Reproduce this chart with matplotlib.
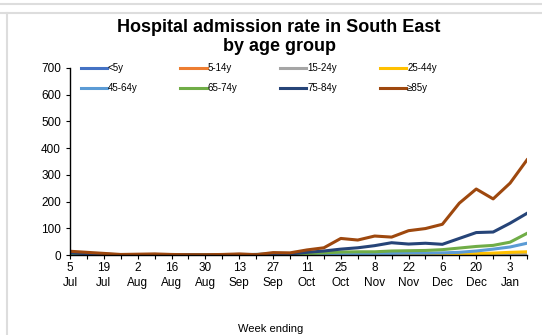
import matplotlib
matplotlib.use("Agg")
import matplotlib.pyplot as plt
from matplotlib.lines import Line2D

plt.rcParams["font.family"] = ["Liberation Sans", "DejaVu Sans"]

# week ending dates, 5 Jul to 10 Jan
weeks = ["5\nJul", "12\nJul", "19\nJul", "26\nJul", "2\nAug", "9\nAug", "16\nAug",
         "23\nAug", "30\nAug", "6\nSep", "13\nSep", "20\nSep", "27\nSep", "4\nOct",
         "11\nOct", "18\nOct", "25\nOct", "1\nNov", "8\nNov", "15\nNov", "22\nNov",
         "29\nNov", "6\nDec", "13\nDec", "20\nDec", "27\nDec", "3\nJan", "10\nJan"]

under5 = [2, 1, 1, 1, 1, 1, 1, 1, 1, 1, 1, 1, 1, 1, 1, 1, 2, 2, 2, 2, 2, 2, 2, 2, 3, 3, 3, 3]
age5_14 = [0, 0, 0, 0, 0, 0, 0, 0, 0, 0, 0, 0, 0, 0, 0, 0, 1, 1, 1, 1, 1, 1, 1, 1, 1, 1, 1, 1]
age15_24 = [1, 1, 0, 0, 0, 0, 0, 0, 0, 0, 0, 0, 1, 1, 1, 1, 1, 2, 2, 2, 2, 2, 2, 2, 2, 3, 3, 4]
age25_44 = [2, 1, 1, 1, 0, 0, 0, 0, 0, 0, 1, 1, 1, 1, 1, 2, 2, 2, 2, 3, 3, 3, 3, 4, 5, 7, 10, 12]
age45_64 = [4, 2, 1, 1, 1, 0, 0, 0, 0, 1, 1, 1, 2, 2, 3, 4, 5, 5, 6, 6, 7, 7, 8, 10, 15, 22, 30, 44]
age65_74 = [5, 3, 2, 1, 1, 1, 1, 0, 0, 1, 1, 2, 3, 3, 5, 8, 11, 12, 12, 15, 16, 17, 20, 26, 32, 36, 48, 81]
age75_84 = [8, 5, 3, 1, 1, 2, 1, 1, 0, 1, 2, 2, 4, 4, 10, 15, 22, 27, 35, 46, 41, 44, 40, 62, 84, 86, 119, 156]
age85 = [14, 10, 6, 2, 3, 4, 2, 1, 1, 2, 4, 1, 9, 8, 19, 27, 62, 56, 71, 67, 91, 99, 115, 194, 247, 210, 269, 356]

series = [
    ("<5y", under5, "#4472c4"),
    ("5-14y", age5_14, "#ed7d31"),
    ("15-24y", age15_24, "#a5a5a5"),
    ("25-44y", age25_44, "#ffc000"),
    ("45-64y", age45_64, "#5b9bd5"),
    ("65-74y", age65_74, "#70ad47"),
    ("75-84y", age75_84, "#264478"),
    ("\u226585y", age85, "#9e480e"),
]

fig = plt.figure(figsize=(5.42, 3.35), dpi=100)

# panel borders
fig.add_artist(Line2D([0, 1], [1 - 3.5 / 335] * 2, color="#dddddd", lw=1.5))
fig.add_artist(Line2D([0, 1], [1 - 12.5 / 335] * 2, color="#dddddd", lw=1.5))
fig.add_artist(Line2D([6.5 / 542] * 2, [0, 1 - 12.5 / 335], color="#dddddd", lw=1.5))

ax = fig.add_axes([70 / 542, 1 - 255 / 335, (527 - 70) / 542, (255 - 68) / 335])

x = list(range(len(weeks)))
handles = []
for name, vals, col in series:
    h, = ax.plot(x, vals, color=col, lw=2.2, label=name, solid_joinstyle="round")
    handles.append(h)

ax.set_xlim(0, len(weeks) - 1)
ax.set_ylim(0, 700)
ax.set_yticks(range(0, 701, 100))
ax.set_xticks(x)
ax.set_xticklabels([w if i % 2 == 0 else "" for i, w in enumerate(weeks)],
                   fontsize=8.5, linespacing=1.3)
ax.tick_params(axis="y", labelsize=8.5, length=3, width=0.8)
ax.tick_params(axis="x", length=3, width=0.8, pad=2)
for s in ["top", "right"]:
    ax.spines[s].set_visible(False)
for s in ["left", "bottom"]:
    ax.spines[s].set_color("black")
    ax.spines[s].set_linewidth(1)

# legend fills row by row, matplotlib fills column by column
order = [0, 4, 1, 5, 2, 6, 3, 7]
leg = ax.legend(handles=[handles[i] for i in order], ncol=4, loc="upper left",
                bbox_to_anchor=(0.015, 1.045), frameon=False, fontsize=7,
                handlelength=2.7, handletextpad=0.1, columnspacing=4.4,
                labelspacing=1.0, borderaxespad=0)

fig.text(0.515, 1 - 37 / 335, "Hospital admission rate in South East\nby age group",
         ha="center", va="center", fontsize=13, fontweight="bold", linespacing=1.15)
fig.text(0.5, 1 - 329 / 335, "Week ending", ha="center", va="center", fontsize=8)

fig.savefig("out.png", dpi=100)
